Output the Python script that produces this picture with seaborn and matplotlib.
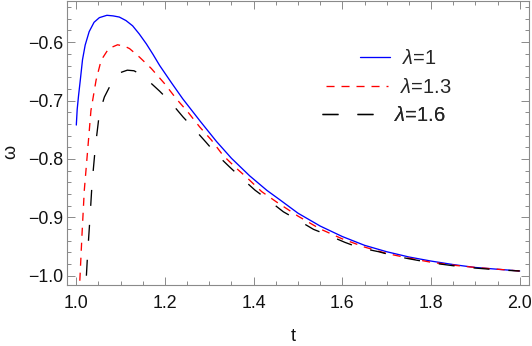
import numpy as np
import pandas as pd
import matplotlib
matplotlib.use("Agg")
import matplotlib.pyplot as plt
import seaborn as sns

# ---- data ----
t_l1 = [1.000, 1.002, 1.005, 1.009, 1.014, 1.020, 1.029, 1.040, 1.052, 1.069, 1.083, 1.097,
        1.112, 1.127, 1.142, 1.158, 1.173, 1.188, 1.215, 1.240, 1.280, 1.316, 1.350, 1.391,
        1.430, 1.459, 1.500, 1.550, 1.600, 1.650, 1.700, 1.750, 1.800, 1.850, 1.900, 1.950, 2.000]
w_l1 = [-0.742, -0.715, -0.692, -0.665, -0.630, -0.605, -0.582, -0.566, -0.558, -0.554, -0.555, -0.557,
        -0.563, -0.572, -0.586, -0.603, -0.621, -0.640, -0.670, -0.697, -0.736, -0.770, -0.799, -0.829,
        -0.854, -0.870, -0.893, -0.915, -0.933, -0.948, -0.959, -0.968, -0.975, -0.981, -0.986, -0.989, -0.992]

t_l13 = [1.004, 1.008, 1.013, 1.018, 1.0256, 1.033, 1.0446, 1.056, 1.073, 1.093, 1.109, 1.120,
         1.143, 1.169, 1.199, 1.2255, 1.252, 1.278, 1.305, 1.331, 1.361, 1.3875, 1.418, 1.452,
         1.500, 1.550, 1.600, 1.650, 1.700, 1.750, 1.800, 1.850, 1.900, 1.950, 2.000]
w_l13 = [-1.060, -1.0075, -0.927, -0.854, -0.785, -0.717, -0.665, -0.631, -0.611, -0.6045, -0.607, -0.611,
         -0.626, -0.645, -0.671, -0.697, -0.720, -0.745, -0.768, -0.794, -0.816, -0.834, -0.856, -0.874,
         -0.898, -0.920, -0.937, -0.951, -0.962, -0.970, -0.977, -0.982, -0.986, -0.989, -0.992]

t_l16 = [1.019, 1.022, 1.0256, 1.031, 1.0355, 1.043, 1.052, 1.0633, 1.0747, 1.086, 1.100, 1.115,
         1.130, 1.145, 1.158, 1.188, 1.214, 1.2405, 1.265, 1.292, 1.316, 1.346, 1.373, 1.403,
         1.433, 1.467, 1.497, 1.535, 1.566, 1.606, 1.638, 1.682, 1.716, 1.750, 1.800, 1.850,
         1.900, 1.950, 2.000]
w_l16 = [-1.060, -1.010, -0.961, -0.899, -0.842, -0.779, -0.722, -0.694, -0.677, -0.663, -0.652, -0.648,
         -0.649, -0.655, -0.663, -0.684, -0.704, -0.728, -0.748, -0.771, -0.792, -0.814, -0.833, -0.8535,
         -0.8705, -0.8906, -0.9036, -0.9207, -0.930, -0.943, -0.952, -0.959, -0.966, -0.971, -0.978, -0.983,
         -0.987, -0.990, -0.992]

labels = [r"$\mathit{\lambda}$=1", r"$\mathit{\lambda}$=1.3", r"$\mathit{\lambda}$=1.6"]
colors = ["#0000ff", "#ff0000", "#000000"]
x_ticks = [1.0, 1.2, 1.4, 1.6, 1.8, 2.0]
y_ticks = [-1.0, -0.9, -0.8, -0.7, -0.6]

df = pd.concat([
    pd.DataFrame({"t": t_l1, "w": w_l1, "lam": labels[0]}),
    pd.DataFrame({"t": t_l13, "w": w_l13, "lam": labels[1]}),
    pd.DataFrame({"t": t_l16, "w": w_l16, "lam": labels[2]}),
], ignore_index=True)

# ---- style ----
sns.set_style("ticks")
plt.rcParams["font.family"] = ["Liberation Sans", "DejaVu Sans"]
plt.rcParams["mathtext.fontset"] = "custom"
plt.rcParams["mathtext.rm"] = "Liberation Sans"
plt.rcParams["mathtext.it"] = "Liberation Sans:italic"
plt.rcParams["lines.scale_dashes"] = False

frame_c = "#8a8a8a"
fig = plt.figure(figsize=(5.32, 3.46), dpi=100)
ax = fig.add_axes([67/532, 1-285/346, (529-67)/532, (285-1)/346])

dash_styles = ["", (5.8, 5.0), (11.5, 13.7)]
sns.lineplot(data=df, x="t", y="w", hue="lam", style="lam",
             palette=colors, dashes=dash_styles, estimator=None, sort=False,
             legend=False, linewidth=0.95, ax=ax)

ax.set_xticks(x_ticks)
ax.set_xticklabels([f"{v:.1f}" for v in x_ticks])
ax.set_yticks(y_ticks)
ax.set_yticklabels([f"\u2212{abs(v):.1f}" for v in y_ticks])
ax.set_xticks(np.arange(1.0, 2.0001, 0.05), minor=True)
ax.set_yticks(np.arange(-1.0, -0.5299, 0.02), minor=True)
ax.set_xlim(0.979, 2.021)
ax.set_ylim(-1.016, -0.5295)

for s in ax.spines.values():
    s.set_color(frame_c)
    s.set_linewidth(0.8)
ax.tick_params(which="both", direction="in", top=True, right=True, color=frame_c, width=0.7)
ax.tick_params(which="major", length=5.5)
ax.tick_params(which="minor", length=3)
ax.tick_params(axis="x", which="major", labelsize=12.8, pad=7, labelcolor="#111111")
ax.tick_params(axis="y", which="major", labelsize=12.8, pad=3, labelcolor="#111111")

ax.set_xlabel("t", fontsize=13, color="#111111")
ax.set_ylabel("\u03c9", fontsize=13, color="#111111")
ax.xaxis.set_label_coords((293-67)/462, -0.153)
ax.yaxis.set_label_coords(-0.103, 0.468)

# ---- legend entries (one legend per entry to mimic layout) ----
lines = ax.get_lines()
leg_spec = [  # (x0 px, y px, handlelength, handletextpad)
    (360, 58.3, 1.5, 0.6),
    (326, 87.3, 3.1, 0.55),
    (322, 116.0, 2.6, 1.0),
]
for ln, lab, (x0, yc, hl, hp) in zip(lines, labels, leg_spec):
    lg = ax.legend([ln], [lab], loc="center left",
                   bbox_to_anchor=((x0-67)/462, (285-yc)/284),
                   frameon=False, fontsize=14.5, handlelength=hl, handletextpad=hp,
                   borderpad=0, borderaxespad=0)
    ax.add_artist(lg)

fig.savefig("out.png", dpi=100)
